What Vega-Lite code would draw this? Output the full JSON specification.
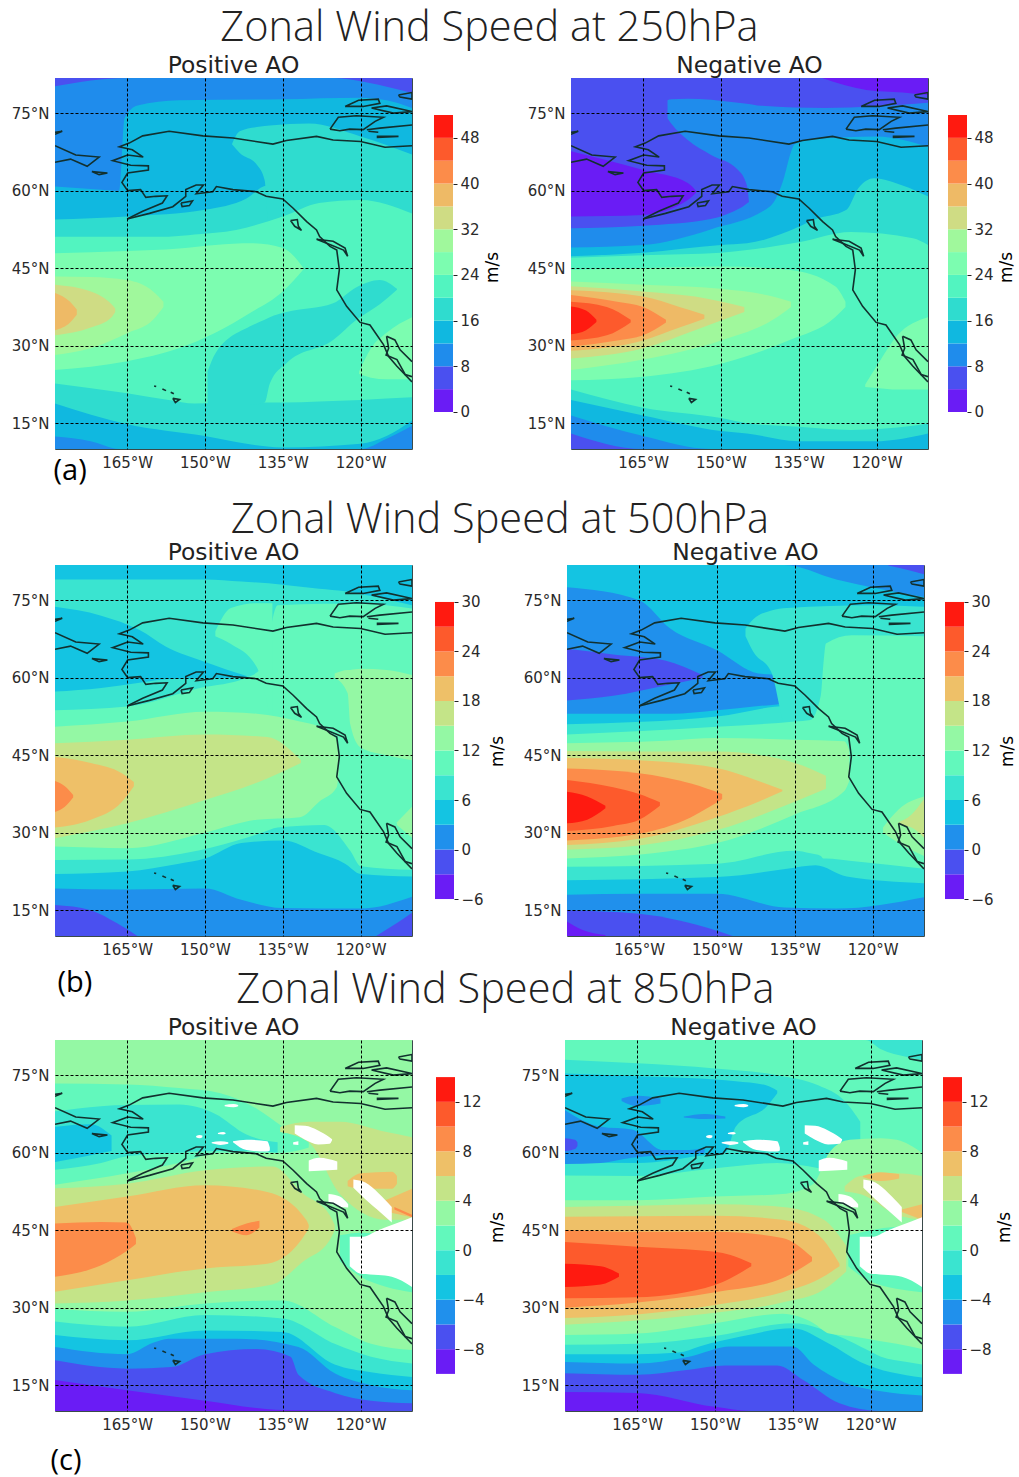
{"$schema":"https://vega.github.io/schema/vega-lite/v6.json","padding":{"left":10,"top":7,"right":0,"bottom":0},"background":"white",
"config":{"view":{"stroke":"#3a4a4a"},"axis":{"labelFont":"DejaVu Sans","labelFontSize":15,"labelColor":"#2a2a2a","titleFont":"DejaVu Sans","titleFontWeight":"normal"},"title":{"font":"DejaVu Sans","fontWeight":"normal","color":"#222"},"axisX":{"grid":true,"gridColor":"#000","gridDash":[3,2],"gridOpacity":1,"ticks":false,"domain":false,"labelPadding":6},"axisY":{"grid":true,"gridColor":"#000","gridDash":[3,2],"gridOpacity":1,"ticks":false,"domain":false,"labelPadding":6}},
"resolve":{"scale":{"color":"independent"}},
"datasets":{
"a1":[
{"b":1,"l":4,"x":-178.9,"y":10,"y2":81.8},{"b":1,"l":4,"x":-110.1,"y":10,"y2":81.8},
{"b":2,"l":8,"x":-178.9,"y":10,"y2":80.2},{"b":2,"l":8,"x":-165,"y":10,"y2":81.8},{"b":2,"l":8,"x":-125,"y":10,"y2":81.8},{"b":2,"l":8,"x":-119,"y":10,"y2":81},{"b":2,"l":8,"x":-110.1,"y":10,"y2":78.9},
{"b":3,"l":12,"x":-178.9,"y":12.4,"y2":60.8},{"b":3,"l":12,"x":-172,"y":11.5,"y2":60.3},{"b":3,"l":12,"x":-166.5,"y":10,"y2":60},{"b":3,"l":12,"x":-165.5,"y":10,"y2":74},{"b":3,"l":12,"x":-163,"y":10,"y2":76.5},{"b":3,"l":12,"x":-155,"y":10,"y2":77.5},{"b":3,"l":12,"x":-135,"y":10,"y2":77.7},{"b":3,"l":12,"x":-120,"y":10,"y2":78},{"b":3,"l":12,"x":-115,"y":12,"y2":77.5},{"b":3,"l":12,"x":-110.1,"y":14.5,"y2":76},
{"b":4,"l":16,"x":-178.9,"y":18.8,"y2":54.4},{"b":4,"l":16,"x":-165,"y":14.8,"y2":55},{"b":4,"l":16,"x":-150,"y":12.5,"y2":56.3},{"b":4,"l":16,"x":-142,"y":11,"y2":58.5},{"b":4,"l":16,"x":-138,"y":10.5,"y2":61},{"b":4,"l":16,"x":-135,"y":10.3,"y2":58},{"b":4,"l":16,"x":-120,"y":11,"y2":58},{"b":4,"l":16,"x":-115,"y":12.5,"y2":58},{"b":4,"l":16,"x":-110.1,"y":15.5,"y2":58},
{"b":5,"l":16,"x":-144.8,"y":69,"y2":69},{"b":5,"l":16,"x":-143.3,"y":67.3,"y2":71.5},{"b":5,"l":16,"x":-140,"y":65,"y2":72.3},{"b":5,"l":16,"x":-138.5,"y":62,"y2":72.5},{"b":5,"l":16,"x":-137.5,"y":50,"y2":72.6},{"b":5,"l":16,"x":-130,"y":50,"y2":73},{"b":5,"l":16,"x":-120,"y":50,"y2":70.5},{"b":5,"l":16,"x":-110.1,"y":50,"y2":67},
{"b":6,"l":20,"x":-178.9,"y":22.7,"y2":51.1},{"b":6,"l":20,"x":-165,"y":20.8,"y2":51.1},{"b":6,"l":20,"x":-157,"y":19.5,"y2":51.1},{"b":6,"l":20,"x":-152,"y":18.8,"y2":51.5},{"b":6,"l":20,"x":-144,"y":19,"y2":52.4},{"b":6,"l":20,"x":-135,"y":19,"y2":55},{"b":6,"l":20,"x":-128,"y":19.2,"y2":57.6},{"b":6,"l":20,"x":-120,"y":19.5,"y2":58.2},{"b":6,"l":20,"x":-110.1,"y":20,"y2":55.6},
{"b":7,"l":16,"x":-149.5,"y":18.5,"y2":25},{"b":7,"l":16,"x":-148,"y":18.5,"y2":28.5},{"b":7,"l":16,"x":-141.4,"y":18.5,"y2":33.7},{"b":7,"l":16,"x":-138.5,"y":19,"y2":35},{"b":7,"l":16,"x":-137.5,"y":22.7,"y2":35.5},{"b":7,"l":16,"x":-134.3,"y":26.6,"y2":36.5},{"b":7,"l":16,"x":-125.3,"y":31.1,"y2":38.2},{"b":7,"l":16,"x":-120.8,"y":35,"y2":41.3},{"b":7,"l":16,"x":-116.3,"y":38,"y2":42.7},{"b":7,"l":16,"x":-113,"y":40.8,"y2":41},
{"b":8,"l":24,"x":-178.9,"y":25.3,"y2":47.9},{"b":8,"l":24,"x":-165,"y":27,"y2":48.3},{"b":8,"l":24,"x":-155,"y":29.5,"y2":48.8},{"b":8,"l":24,"x":-148,"y":32.5,"y2":49.5},{"b":8,"l":24,"x":-141,"y":36.5,"y2":49.8},{"b":8,"l":24,"x":-135,"y":40.5,"y2":48.9},{"b":8,"l":24,"x":-131,"y":44.8,"y2":45},
{"b":9,"l":24,"x":-120.3,"y":24.5,"y2":25},{"b":9,"l":24,"x":-118,"y":23.8,"y2":29.5},{"b":9,"l":24,"x":-115,"y":23.5,"y2":32.5},{"b":9,"l":24,"x":-110.1,"y":23.5,"y2":35.5},
{"b":10,"l":28,"x":-178.9,"y":28.2,"y2":43.4},{"b":10,"l":28,"x":-172,"y":29.5,"y2":43.3},{"b":10,"l":28,"x":-165,"y":32.4,"y2":42.7},{"b":10,"l":28,"x":-160,"y":35,"y2":40.5},{"b":10,"l":28,"x":-158,"y":37.5,"y2":38.5},
{"b":11,"l":32,"x":-178.9,"y":32,"y2":41.8},{"b":11,"l":32,"x":-172,"y":33.5,"y2":40.5},{"b":11,"l":32,"x":-168,"y":35.5,"y2":38},{"b":11,"l":32,"x":-167.3,"y":36.5,"y2":37.2},
{"b":12,"l":36,"x":-178.9,"y":33,"y2":40.2},{"b":12,"l":36,"x":-176,"y":34.5,"y2":38.5},{"b":12,"l":36,"x":-174.7,"y":36,"y2":37}
],
"a2":[
{"b":1,"l":4,"x":-178.9,"y":10,"y2":81.8},{"b":1,"l":4,"x":-110.1,"y":10,"y2":81.8},
{"b":2,"l":0,"x":-130.5,"y":81.8,"y2":81.8},{"b":2,"l":0,"x":-122,"y":79.5,"y2":81.8},{"b":2,"l":0,"x":-115,"y":79,"y2":81.8},{"b":2,"l":0,"x":-110.1,"y":78.5,"y2":81.8},
{"b":3,"l":0,"x":-178.9,"y":55,"y2":67.6},{"b":3,"l":0,"x":-165,"y":55.3,"y2":64},{"b":3,"l":0,"x":-156.4,"y":58.2,"y2":61.5},{"b":3,"l":0,"x":-154.8,"y":59.6,"y2":60},
{"b":4,"l":8,"x":-178.9,"y":13,"y2":52.7},{"b":4,"l":8,"x":-165,"y":10,"y2":53.2},{"b":4,"l":8,"x":-152,"y":10,"y2":54.5},{"b":4,"l":8,"x":-146,"y":10,"y2":56.8},{"b":4,"l":8,"x":-144,"y":10,"y2":58},{"b":4,"l":8,"x":-110.1,"y":10,"y2":58},
{"b":5,"l":8,"x":-160.3,"y":74,"y2":77.5},{"b":5,"l":8,"x":-159.6,"y":73,"y2":77.7},{"b":5,"l":8,"x":-156.4,"y":69.8,"y2":77.8},{"b":5,"l":8,"x":-151.9,"y":66.9,"y2":77.6},{"b":5,"l":8,"x":-146.7,"y":64,"y2":77},{"b":5,"l":8,"x":-145,"y":61,"y2":76.8},{"b":5,"l":8,"x":-143,"y":40,"y2":76.5},{"b":5,"l":8,"x":-130,"y":40,"y2":76},{"b":5,"l":8,"x":-110.1,"y":40,"y2":77},
{"b":6,"l":12,"x":-178.9,"y":16.5,"y2":49},{"b":6,"l":12,"x":-165,"y":12.5,"y2":49.5},{"b":6,"l":12,"x":-152,"y":10,"y2":52.5},{"b":6,"l":12,"x":-140.5,"y":10,"y2":57},{"b":6,"l":12,"x":-138,"y":10,"y2":62},{"b":6,"l":12,"x":-136.5,"y":10,"y2":67.5},{"b":6,"l":12,"x":-135.8,"y":10,"y2":69},{"b":6,"l":12,"x":-132,"y":10,"y2":70},{"b":6,"l":12,"x":-120,"y":10,"y2":70.5},{"b":6,"l":12,"x":-110.1,"y":10,"y2":68.5},
{"b":7,"l":16,"x":-178.9,"y":19.5,"y2":47.3},{"b":7,"l":16,"x":-165,"y":16.5,"y2":48},{"b":7,"l":16,"x":-150,"y":13.5,"y2":49.5},{"b":7,"l":16,"x":-145,"y":13,"y2":49.8},{"b":7,"l":16,"x":-135,"y":11.5,"y2":53},{"b":7,"l":16,"x":-132,"y":11.5,"y2":54.4},{"b":7,"l":16,"x":-125.8,"y":11.5,"y2":56.3},{"b":7,"l":16,"x":-123.5,"y":11.5,"y2":60.5},{"b":7,"l":16,"x":-120.5,"y":11.5,"y2":62.4},{"b":7,"l":16,"x":-115,"y":12,"y2":61},{"b":7,"l":16,"x":-110.1,"y":13,"y2":58.9},
{"b":8,"l":20,"x":-178.9,"y":21.5,"y2":47},{"b":8,"l":20,"x":-165,"y":18,"y2":47.5},{"b":8,"l":20,"x":-150,"y":16,"y2":48},{"b":8,"l":20,"x":-145,"y":15,"y2":48.5},{"b":8,"l":20,"x":-135,"y":14.3,"y2":50},{"b":8,"l":20,"x":-125,"y":13.7,"y2":52},{"b":8,"l":20,"x":-113,"y":14.5,"y2":50.8},{"b":8,"l":20,"x":-110.1,"y":15,"y2":49.5},
{"b":9,"l":24,"x":-178.9,"y":23.3,"y2":44.7},{"b":9,"l":24,"x":-165,"y":24,"y2":45},{"b":9,"l":24,"x":-150,"y":26.5,"y2":45.3},{"b":9,"l":24,"x":-137,"y":31,"y2":44.7},{"b":9,"l":24,"x":-128,"y":35.5,"y2":41.5},{"b":9,"l":24,"x":-126,"y":37.5,"y2":38.5},
{"b":10,"l":24,"x":-122.2,"y":22,"y2":22.5},{"b":10,"l":24,"x":-120,"y":21.8,"y2":26},{"b":10,"l":24,"x":-116,"y":21.5,"y2":32},{"b":10,"l":24,"x":-110.1,"y":21.5,"y2":35.5},
{"b":11,"l":28,"x":-178.9,"y":25.3,"y2":42.4},{"b":11,"l":28,"x":-165,"y":27.3,"y2":41.8},{"b":11,"l":28,"x":-150,"y":31,"y2":41},{"b":11,"l":28,"x":-140,"y":35,"y2":39.5},{"b":11,"l":28,"x":-136.5,"y":37.5,"y2":38.5},
{"b":12,"l":32,"x":-178.9,"y":27.5,"y2":41.5},{"b":12,"l":32,"x":-165,"y":29.5,"y2":40.5},{"b":12,"l":32,"x":-155,"y":33,"y2":39.5},{"b":12,"l":32,"x":-145.5,"y":36.5,"y2":37.5},
{"b":13,"l":36,"x":-178.9,"y":29,"y2":40.7},{"b":13,"l":36,"x":-165,"y":31,"y2":39.5},{"b":13,"l":36,"x":-158,"y":33.5,"y2":37.5},{"b":13,"l":36,"x":-153.2,"y":35.2,"y2":36},
{"b":14,"l":40,"x":-178.9,"y":29.8,"y2":39.8},{"b":14,"l":40,"x":-170,"y":31,"y2":38.5},{"b":14,"l":40,"x":-165,"y":32,"y2":37.5},{"b":14,"l":40,"x":-160.6,"y":34.5,"y2":35},
{"b":15,"l":44,"x":-178.9,"y":31,"y2":38.5},{"b":15,"l":44,"x":-172,"y":32,"y2":37.5},{"b":15,"l":44,"x":-167.4,"y":34.5,"y2":35},
{"b":16,"l":48,"x":-178.9,"y":32.2,"y2":37.6},{"b":16,"l":48,"x":-176,"y":33,"y2":36.8},{"b":16,"l":48,"x":-174,"y":34.6,"y2":35}
],
"b1":[
{"b":1,"l":0,"x":-178.9,"y":10,"y2":81.8},{"b":1,"l":0,"x":-110.1,"y":10,"y2":81.8},
{"b":2,"l":-3,"x":-178.9,"y":10,"y2":16},{"b":2,"l":-3,"x":-172,"y":10,"y2":15},{"b":2,"l":-3,"x":-167,"y":10,"y2":12.5},{"b":2,"l":-3,"x":-163,"y":10,"y2":10},
{"b":3,"l":-3,"x":-117,"y":10,"y2":10},{"b":3,"l":-3,"x":-113,"y":10,"y2":12.5},{"b":3,"l":-3,"x":-110.1,"y":10,"y2":14.5},
{"b":4,"l":3,"x":-178.9,"y":19.2,"y2":81.8},{"b":4,"l":3,"x":-165,"y":19,"y2":81.8},{"b":4,"l":3,"x":-150,"y":19.2,"y2":81.8},{"b":4,"l":3,"x":-143,"y":17,"y2":81.8},{"b":4,"l":3,"x":-135,"y":15.4,"y2":81.8},{"b":4,"l":3,"x":-120,"y":15.3,"y2":81.8},{"b":4,"l":3,"x":-110.1,"y":17.6,"y2":81.8},
{"b":5,"l":6,"x":-178.9,"y":22,"y2":79},{"b":5,"l":6,"x":-165,"y":22.5,"y2":79},{"b":5,"l":6,"x":-155,"y":24,"y2":79},{"b":5,"l":6,"x":-150,"y":25,"y2":79},{"b":5,"l":6,"x":-143,"y":28,"y2":78.6},{"b":5,"l":6,"x":-135,"y":28.5,"y2":78},{"b":5,"l":6,"x":-128,"y":26,"y2":77.2},{"b":5,"l":6,"x":-123,"y":24,"y2":76.7},{"b":5,"l":6,"x":-120,"y":22,"y2":76.2},{"b":5,"l":6,"x":-110.1,"y":21.5,"y2":74},
{"b":6,"l":3,"x":-178.9,"y":57.3,"y2":73.7},{"b":6,"l":3,"x":-170,"y":58,"y2":72},{"b":6,"l":3,"x":-162.6,"y":59,"y2":69.2},{"b":6,"l":3,"x":-157.5,"y":59.7,"y2":66},{"b":6,"l":3,"x":-149.8,"y":59.9,"y2":63},{"b":6,"l":3,"x":-142,"y":60,"y2":60.3},
{"b":7,"l":9,"x":-178.9,"y":24.7,"y2":53.7},{"b":7,"l":9,"x":-165,"y":24.8,"y2":54.4},{"b":7,"l":9,"x":-151,"y":26.6,"y2":58},{"b":7,"l":9,"x":-142,"y":29,"y2":60},{"b":7,"l":9,"x":-139,"y":30,"y2":62},{"b":7,"l":9,"x":-136,"y":31,"y2":74},{"b":7,"l":9,"x":-127,"y":31.5,"y2":74.3},{"b":7,"l":9,"x":-122,"y":26.5,"y2":74.3},{"b":7,"l":9,"x":-120,"y":23.5,"y2":74.3},{"b":7,"l":9,"x":-110.1,"y":22.8,"y2":73.4},
{"b":8,"l":9,"x":-148,"y":68,"y2":69},{"b":8,"l":9,"x":-145,"y":66.5,"y2":73.5},{"b":8,"l":9,"x":-140,"y":62,"y2":74.4},{"b":8,"l":9,"x":-137,"y":50,"y2":74.4},
{"b":9,"l":12,"x":-178.9,"y":27.3,"y2":50.5},{"b":9,"l":12,"x":-165,"y":27,"y2":51.5},{"b":9,"l":12,"x":-150,"y":30,"y2":53.4},{"b":9,"l":12,"x":-140,"y":32.5,"y2":53},{"b":9,"l":12,"x":-131.7,"y":33,"y2":51.5},{"b":9,"l":12,"x":-128,"y":36,"y2":50.5},{"b":9,"l":12,"x":-124.6,"y":38.8,"y2":48},{"b":9,"l":12,"x":-124.2,"y":42,"y2":44},
{"b":12,"l":12,"x":-125,"y":60,"y2":60.8},{"b":12,"l":12,"x":-122.5,"y":57,"y2":61.5},{"b":12,"l":12,"x":-122,"y":51,"y2":61.5},{"b":12,"l":12,"x":-120,"y":46.5,"y2":61.7},{"b":12,"l":12,"x":-115,"y":45,"y2":61.5},{"b":12,"l":12,"x":-110.1,"y":44,"y2":60.5},
{"b":11,"l":12,"x":-113,"y":31.5,"y2":32},{"b":11,"l":12,"x":-110.1,"y":29,"y2":35},
{"b":13,"l":15,"x":-178.9,"y":28.9,"y2":47.3},{"b":13,"l":15,"x":-165,"y":31.8,"y2":48},{"b":13,"l":15,"x":-150,"y":36.3,"y2":49},{"b":13,"l":15,"x":-138,"y":40.5,"y2":48.5},{"b":13,"l":15,"x":-131.5,"y":43.5,"y2":44},
{"b":14,"l":18,"x":-178.9,"y":31,"y2":44.7},{"b":14,"l":18,"x":-172,"y":32.5,"y2":43.5},{"b":14,"l":18,"x":-166,"y":36,"y2":41.5},{"b":14,"l":18,"x":-163.7,"y":39,"y2":39.8},
{"b":15,"l":21,"x":-178.9,"y":34,"y2":40},{"b":15,"l":21,"x":-177,"y":35,"y2":39},{"b":15,"l":21,"x":-175.4,"y":36.8,"y2":37.3}
],
"b2":[
{"b":1,"l":0,"x":-178.9,"y":10,"y2":81.8},{"b":1,"l":0,"x":-110.1,"y":10,"y2":81.8},
{"b":2,"l":3,"x":-178.9,"y":18,"y2":81.8},{"b":2,"l":3,"x":-165,"y":18.2,"y2":81.8},{"b":2,"l":3,"x":-150,"y":18.2,"y2":81.8},{"b":2,"l":3,"x":-137,"y":15.5,"y2":81.8},{"b":2,"l":3,"x":-127,"y":15.3,"y2":79},{"b":2,"l":3,"x":-110.1,"y":17.5,"y2":75.6},
{"b":3,"l":0,"x":-178.9,"y":53,"y2":77.5},{"b":3,"l":0,"x":-165,"y":53,"y2":75},{"b":3,"l":0,"x":-159,"y":53,"y2":69.5},{"b":3,"l":0,"x":-150,"y":53.7,"y2":65.3},{"b":3,"l":0,"x":-142,"y":54.5,"y2":60.8},{"b":3,"l":0,"x":-137.5,"y":55,"y2":60.5},{"b":3,"l":0,"x":-136.2,"y":56,"y2":58},
{"b":4,"l":-3,"x":-178.9,"y":55.6,"y2":65.6},{"b":4,"l":-3,"x":-170,"y":56.5,"y2":64.5},{"b":4,"l":-3,"x":-160,"y":58.5,"y2":63.3},{"b":4,"l":-3,"x":-152.8,"y":60,"y2":60.5},
{"b":5,"l":-3,"x":-178.9,"y":10,"y2":15},{"b":5,"l":-3,"x":-165,"y":10,"y2":14.3},{"b":5,"l":-3,"x":-150,"y":10,"y2":11},{"b":5,"l":-3,"x":-147,"y":10,"y2":10},
{"b":6,"l":-6,"x":-178.9,"y":10,"y2":12.8},{"b":6,"l":-6,"x":-176,"y":10,"y2":11.2},{"b":6,"l":-6,"x":-171.5,"y":10,"y2":10.2},
{"b":7,"l":-3,"x":-117,"y":81.7,"y2":81.8},{"b":7,"l":-3,"x":-113,"y":80.8,"y2":81.8},{"b":7,"l":-3,"x":-110.1,"y":80,"y2":81.8},
{"b":8,"l":6,"x":-178.9,"y":20.8,"y2":51},{"b":8,"l":6,"x":-150,"y":21.4,"y2":52.5},{"b":8,"l":6,"x":-136.5,"y":23,"y2":54.5},{"b":8,"l":6,"x":-131,"y":23.7,"y2":54.5},{"b":8,"l":6,"x":-125,"y":21.5,"y2":54.5},{"b":8,"l":6,"x":-110.1,"y":20.2,"y2":54.5},
{"b":9,"l":6,"x":-144.5,"y":68,"y2":69.5},{"b":9,"l":6,"x":-143,"y":65,"y2":71.3},{"b":9,"l":6,"x":-139.5,"y":61,"y2":73},{"b":9,"l":6,"x":-136.5,"y":50,"y2":73.5},{"b":9,"l":6,"x":-120,"y":50,"y2":74},{"b":9,"l":6,"x":-110.1,"y":50,"y2":73.7},
{"b":10,"l":9,"x":-178.9,"y":23.4,"y2":49},{"b":10,"l":9,"x":-150,"y":24,"y2":50.5},{"b":10,"l":9,"x":-135,"y":26.5,"y2":51.5},{"b":10,"l":9,"x":-132,"y":26,"y2":51.8},{"b":10,"l":9,"x":-130,"y":25.5,"y2":56.5},{"b":10,"l":9,"x":-129.5,"y":25,"y2":62.5},{"b":10,"l":9,"x":-129,"y":25,"y2":66.6},{"b":10,"l":9,"x":-124,"y":24.5,"y2":68.2},{"b":10,"l":9,"x":-110.1,"y":23,"y2":68},
{"b":11,"l":12,"x":-178.9,"y":25,"y2":47.3},{"b":11,"l":12,"x":-160,"y":26.3,"y2":47.8},{"b":11,"l":12,"x":-150,"y":28,"y2":48.3},{"b":11,"l":12,"x":-135,"y":33.5,"y2":48},{"b":11,"l":12,"x":-125.5,"y":38,"y2":47.7},{"b":11,"l":12,"x":-124.5,"y":40,"y2":46},
{"b":12,"l":12,"x":-118,"y":30,"y2":31},{"b":12,"l":12,"x":-115,"y":28,"y2":34.5},{"b":12,"l":12,"x":-110.1,"y":25.5,"y2":37},
{"b":13,"l":15,"x":-178.9,"y":26.7,"y2":45.8},{"b":13,"l":15,"x":-165,"y":27.5,"y2":45.7},{"b":13,"l":15,"x":-150,"y":30.5,"y2":45.7},{"b":13,"l":15,"x":-135,"y":36,"y2":43.5},{"b":13,"l":15,"x":-129,"y":38.5,"y2":41},
{"b":14,"l":15,"x":-115,"y":31.5,"y2":32},{"b":14,"l":15,"x":-112.5,"y":31,"y2":33.5},{"b":14,"l":15,"x":-110.1,"y":29,"y2":36.5},
{"b":15,"l":18,"x":-178.9,"y":27.6,"y2":44.5},{"b":15,"l":18,"x":-165,"y":28.8,"y2":44},{"b":15,"l":18,"x":-150,"y":33,"y2":42.5},{"b":15,"l":18,"x":-142,"y":36,"y2":40},{"b":15,"l":18,"x":-137.4,"y":38,"y2":38.3},
{"b":16,"l":21,"x":-178.9,"y":28.5,"y2":42.4},{"b":16,"l":21,"x":-165,"y":29.8,"y2":41.5},{"b":16,"l":21,"x":-155,"y":33,"y2":39.5},{"b":16,"l":21,"x":-149,"y":36.5,"y2":37.5},
{"b":17,"l":24,"x":-178.9,"y":30.3,"y2":40.2},{"b":17,"l":24,"x":-170,"y":31.3,"y2":38.8},{"b":17,"l":24,"x":-165,"y":32.5,"y2":37.5},{"b":17,"l":24,"x":-161,"y":35.2,"y2":35.9},
{"b":18,"l":27,"x":-178.9,"y":31.8,"y2":37.9},{"b":18,"l":27,"x":-175,"y":32.5,"y2":37},{"b":18,"l":27,"x":-171.5,"y":34.7,"y2":35.2}
],
"c1":[
{"b":1,"l":-10,"x":-178.9,"y":10,"y2":81.8},{"b":1,"l":-10,"x":-110.1,"y":10,"y2":81.8},
{"b":2,"l":-8,"x":-178.9,"y":16,"y2":81.8},{"b":2,"l":-8,"x":-165,"y":14,"y2":81.8},{"b":2,"l":-8,"x":-150,"y":12,"y2":81.8},{"b":2,"l":-8,"x":-135,"y":10.2,"y2":81.8},{"b":2,"l":-8,"x":-110.1,"y":10,"y2":81.8},
{"b":3,"l":-6,"x":-178.9,"y":19.8,"y2":81.8},{"b":3,"l":-6,"x":-165,"y":18.2,"y2":81.8},{"b":3,"l":-6,"x":-156.5,"y":18.5,"y2":81.8},{"b":3,"l":-6,"x":-150,"y":21,"y2":81.8},{"b":3,"l":-6,"x":-140,"y":22,"y2":81.8},{"b":3,"l":-6,"x":-133.5,"y":20.5,"y2":81.8},{"b":3,"l":-6,"x":-132,"y":17,"y2":81.8},{"b":3,"l":-6,"x":-125,"y":13.5,"y2":81.8},{"b":3,"l":-6,"x":-118,"y":12,"y2":81.8},{"b":3,"l":-6,"x":-110.1,"y":11.5,"y2":81.8},
{"b":4,"l":-4,"x":-178.9,"y":22.4,"y2":81.8},{"b":4,"l":-4,"x":-165,"y":21,"y2":81.8},{"b":4,"l":-4,"x":-160,"y":23.2,"y2":81.8},{"b":4,"l":-4,"x":-157,"y":24,"y2":81.8},{"b":4,"l":-4,"x":-144,"y":24,"y2":81.8},{"b":4,"l":-4,"x":-132,"y":22.4,"y2":81.8},{"b":4,"l":-4,"x":-125,"y":17.3,"y2":81.8},{"b":4,"l":-4,"x":-118,"y":15,"y2":81.8},{"b":4,"l":-4,"x":-110.1,"y":14,"y2":81.8},
{"b":5,"l":-2,"x":-178.9,"y":24.7,"y2":81.8},{"b":5,"l":-2,"x":-165,"y":23.7,"y2":81.8},{"b":5,"l":-2,"x":-150,"y":25.6,"y2":81.8},{"b":5,"l":-2,"x":-135,"y":25.3,"y2":81.8},{"b":5,"l":-2,"x":-125,"y":19,"y2":81.8},{"b":5,"l":-2,"x":-118,"y":17.5,"y2":81.8},{"b":5,"l":-2,"x":-110.1,"y":16.6,"y2":81.8},
{"b":6,"l":0,"x":-178.9,"y":27.3,"y2":81.8},{"b":6,"l":0,"x":-165,"y":26.3,"y2":81.8},{"b":6,"l":0,"x":-150,"y":28.6,"y2":81.8},{"b":6,"l":0,"x":-135,"y":27.9,"y2":81.8},{"b":6,"l":0,"x":-125,"y":23,"y2":81.8},{"b":6,"l":0,"x":-118,"y":20.5,"y2":81.8},{"b":6,"l":0,"x":-110.1,"y":19.2,"y2":81.8},
{"b":7,"l":2,"x":-178.9,"y":29.8,"y2":81.8},{"b":7,"l":2,"x":-165,"y":29.2,"y2":81.8},{"b":7,"l":2,"x":-150,"y":30.8,"y2":81.8},{"b":7,"l":2,"x":-135,"y":31.4,"y2":81.8},{"b":7,"l":2,"x":-125,"y":26.3,"y2":81.8},{"b":7,"l":2,"x":-118,"y":23,"y2":81.8},{"b":7,"l":2,"x":-110.1,"y":21.8,"y2":81.8},
{"b":8,"l":0,"x":-178.9,"y":53.8,"y2":73.4},{"b":8,"l":0,"x":-165,"y":56,"y2":73.2},{"b":8,"l":0,"x":-155,"y":58,"y2":72.5},{"b":8,"l":0,"x":-147,"y":60,"y2":71.5},{"b":8,"l":0,"x":-140,"y":60,"y2":68.5},{"b":8,"l":0,"x":-135,"y":60,"y2":65},{"b":8,"l":0,"x":-130,"y":61,"y2":62},
{"b":9,"l":0,"x":-124,"y":39,"y2":44},{"b":9,"l":0,"x":-120,"y":36,"y2":44.5},{"b":9,"l":0,"x":-115,"y":34,"y2":44},{"b":9,"l":0,"x":-110.1,"y":33,"y2":41},
{"b":10,"l":-2,"x":-178.9,"y":56.7,"y2":68},{"b":10,"l":-2,"x":-170,"y":58,"y2":69},{"b":10,"l":-2,"x":-165,"y":59.3,"y2":69.2},{"b":10,"l":-2,"x":-155,"y":60,"y2":69.3},{"b":10,"l":-2,"x":-148,"y":60.3,"y2":67.5},{"b":10,"l":-2,"x":-142,"y":60.3,"y2":63.5},{"b":10,"l":-2,"x":-136,"y":60,"y2":62},
{"b":11,"l":-4,"x":-178.9,"y":58.2,"y2":65},{"b":11,"l":-4,"x":-172,"y":59.5,"y2":65.5},{"b":11,"l":-4,"x":-168,"y":60.3,"y2":63.3},
{"b":12,"l":4,"x":-178.9,"y":30.8,"y2":53.1},{"b":12,"l":4,"x":-165,"y":31.4,"y2":54},{"b":12,"l":4,"x":-150,"y":33,"y2":56.6},{"b":12,"l":4,"x":-137,"y":34.5,"y2":57.3},{"b":12,"l":4,"x":-131,"y":39,"y2":52},{"b":12,"l":4,"x":-126,"y":43,"y2":48},{"b":12,"l":4,"x":-125,"y":45,"y2":46},
{"b":13,"l":4,"x":-135.5,"y":64,"y2":65},{"b":13,"l":4,"x":-130,"y":62,"y2":66},{"b":13,"l":4,"x":-124,"y":52,"y2":66},{"b":13,"l":4,"x":-115,"y":47,"y2":64},{"b":13,"l":4,"x":-110.1,"y":47,"y2":63},
{"b":14,"l":6,"x":-178.9,"y":33.1,"y2":49.5},{"b":14,"l":6,"x":-165,"y":35.3,"y2":51.5},{"b":14,"l":6,"x":-150,"y":37.6,"y2":53.7},{"b":14,"l":6,"x":-138,"y":38.5,"y2":52.4},{"b":14,"l":6,"x":-130.5,"y":44.5,"y2":47},{"b":14,"l":6,"x":-130,"y":45.5,"y2":46},
{"b":15,"l":6,"x":-122.5,"y":53.5,"y2":54.5},{"b":15,"l":6,"x":-120,"y":53,"y2":56},{"b":15,"l":6,"x":-114,"y":53,"y2":56.3},{"b":15,"l":6,"x":-113,"y":54,"y2":55.5},
{"b":16,"l":6,"x":-117,"y":49,"y2":50},{"b":16,"l":6,"x":-110.1,"y":47.5,"y2":53},
{"b":17,"l":8,"x":-178.9,"y":36,"y2":46.3},{"b":17,"l":8,"x":-170,"y":38.2,"y2":46.6},{"b":17,"l":8,"x":-165,"y":41,"y2":46.5},{"b":17,"l":8,"x":-163.3,"y":42.3,"y2":43.5},
{"b":18,"l":8,"x":-144.8,"y":44.8,"y2":45.2},{"b":18,"l":8,"x":-142,"y":44,"y2":46.3},{"b":18,"l":8,"x":-139.5,"y":45.5,"y2":46.8},
{"b":19,"l":8,"x":-113.5,"y":49,"y2":49.5},{"b":19,"l":8,"x":-110.1,"y":47.5,"y2":48}
],
"c2":[
{"b":1,"l":-10,"x":-178.9,"y":10,"y2":81.8},{"b":1,"l":-10,"x":-110.1,"y":10,"y2":81.8},
{"b":2,"l":-8,"x":-178.9,"y":13.7,"y2":81.8},{"b":2,"l":-8,"x":-165,"y":13.5,"y2":81.8},{"b":2,"l":-8,"x":-150,"y":10.8,"y2":81.8},{"b":2,"l":-8,"x":-143,"y":10,"y2":81.8},{"b":2,"l":-8,"x":-110.1,"y":10,"y2":81.8},
{"b":3,"l":-6,"x":-178.9,"y":17.3,"y2":81.8},{"b":3,"l":-6,"x":-165,"y":17,"y2":81.8},{"b":3,"l":-6,"x":-155,"y":18,"y2":81.8},{"b":3,"l":-6,"x":-148,"y":18.8,"y2":81.8},{"b":3,"l":-6,"x":-138,"y":18.8,"y2":81.8},{"b":3,"l":-6,"x":-133,"y":16,"y2":81.8},{"b":3,"l":-6,"x":-126,"y":11.5,"y2":81.8},{"b":3,"l":-6,"x":-118,"y":10,"y2":81.8},{"b":3,"l":-6,"x":-110.1,"y":10,"y2":81.8},
{"b":4,"l":-4,"x":-178.9,"y":19.5,"y2":81.8},{"b":4,"l":-4,"x":-165,"y":19.2,"y2":81.8},{"b":4,"l":-4,"x":-155,"y":20.5,"y2":81.8},{"b":4,"l":-4,"x":-147,"y":22.5,"y2":81.8},{"b":4,"l":-4,"x":-135,"y":22.5,"y2":81.8},{"b":4,"l":-4,"x":-131,"y":19,"y2":81.8},{"b":4,"l":-4,"x":-125,"y":15.5,"y2":81.8},{"b":4,"l":-4,"x":-118,"y":13.8,"y2":81.8},{"b":4,"l":-4,"x":-110.1,"y":13,"y2":81.8},
{"b":5,"l":-2,"x":-178.9,"y":21,"y2":81.8},{"b":5,"l":-2,"x":-165,"y":21,"y2":81.8},{"b":5,"l":-2,"x":-157,"y":21.3,"y2":81.8},{"b":5,"l":-2,"x":-153,"y":22.5,"y2":81.8},{"b":5,"l":-2,"x":-145,"y":24.4,"y2":81.8},{"b":5,"l":-2,"x":-135,"y":26,"y2":81.8},{"b":5,"l":-2,"x":-128,"y":23,"y2":81.8},{"b":5,"l":-2,"x":-122,"y":19.5,"y2":81.8},{"b":5,"l":-2,"x":-110.1,"y":16.5,"y2":81.8},
{"b":6,"l":0,"x":-178.9,"y":22.8,"y2":81.8},{"b":6,"l":0,"x":-165,"y":23,"y2":81.8},{"b":6,"l":0,"x":-150,"y":24.5,"y2":81.8},{"b":6,"l":0,"x":-135,"y":27,"y2":81.8},{"b":6,"l":0,"x":-125,"y":24,"y2":81.8},{"b":6,"l":0,"x":-121,"y":22,"y2":81.8},{"b":6,"l":0,"x":-118,"y":20.5,"y2":80},{"b":6,"l":0,"x":-113,"y":19.5,"y2":78.5},{"b":6,"l":0,"x":-110.1,"y":19,"y2":78},
{"b":7,"l":-2,"x":-178.9,"y":55.6,"y2":78},{"b":7,"l":-2,"x":-165,"y":55.5,"y2":77.3},{"b":7,"l":-2,"x":-150,"y":57,"y2":76.3},{"b":7,"l":-2,"x":-138,"y":58,"y2":75},{"b":7,"l":-2,"x":-130,"y":57,"y2":73},{"b":7,"l":-2,"x":-125,"y":56,"y2":70},{"b":7,"l":-2,"x":-122,"y":54,"y2":66},
{"b":8,"l":-4,"x":-178.9,"y":58.2,"y2":75.3},{"b":8,"l":-4,"x":-165,"y":58,"y2":74.8},{"b":8,"l":-4,"x":-152,"y":59.5,"y2":74.3},{"b":8,"l":-4,"x":-148,"y":60,"y2":74},{"b":8,"l":-4,"x":-146,"y":65,"y2":73.8},{"b":8,"l":-4,"x":-140,"y":69,"y2":73},{"b":8,"l":-4,"x":-138,"y":71.5,"y2":72},
{"b":9,"l":-6,"x":-178.9,"y":57.8,"y2":68.2},{"b":9,"l":-6,"x":-172,"y":58,"y2":65},{"b":9,"l":-6,"x":-166,"y":59,"y2":64.5},{"b":9,"l":-6,"x":-160,"y":59.5,"y2":60.5},{"b":9,"l":-6,"x":-155,"y":59.8,"y2":60.5},{"b":9,"l":-6,"x":-152,"y":60,"y2":61},
{"b":10,"l":-6,"x":-168,"y":70,"y2":70.5},{"b":10,"l":-6,"x":-165,"y":69,"y2":71},{"b":10,"l":-6,"x":-160.5,"y":69.5,"y2":70.5},
{"b":11,"l":-6,"x":-156,"y":66.8,"y2":67},{"b":11,"l":-6,"x":-152,"y":66.5,"y2":67.5},{"b":11,"l":-6,"x":-148,"y":66.6,"y2":67},
{"b":12,"l":-8,"x":-178.9,"y":60.3,"y2":62.8},{"b":12,"l":-8,"x":-177,"y":60.7,"y2":62.5},{"b":12,"l":-8,"x":-176.5,"y":61.3,"y2":62},
{"b":13,"l":2,"x":-178.9,"y":24.7,"y2":50.8},{"b":13,"l":2,"x":-165,"y":25,"y2":50.8},{"b":13,"l":2,"x":-150,"y":27,"y2":51.5},{"b":13,"l":2,"x":-137,"y":28.8,"y2":52},{"b":13,"l":2,"x":-131,"y":27,"y2":54},{"b":13,"l":2,"x":-128,"y":25,"y2":60},{"b":13,"l":2,"x":-124,"y":24.5,"y2":62.5},{"b":13,"l":2,"x":-118,"y":23.5,"y2":62.8},{"b":13,"l":2,"x":-115,"y":23,"y2":62.5},{"b":13,"l":2,"x":-110.1,"y":22,"y2":60},
{"b":14,"l":0,"x":-124.3,"y":38,"y2":44},{"b":14,"l":0,"x":-120,"y":35,"y2":45},{"b":14,"l":0,"x":-110.1,"y":33,"y2":46},
{"b":15,"l":4,"x":-178.9,"y":26.7,"y2":49.5},{"b":15,"l":4,"x":-165,"y":27.5,"y2":49.7},{"b":15,"l":4,"x":-150,"y":29,"y2":50},{"b":15,"l":4,"x":-137,"y":31,"y2":49.5},{"b":15,"l":4,"x":-129,"y":33.5,"y2":47},{"b":15,"l":4,"x":-124.7,"y":37,"y2":42},
{"b":16,"l":4,"x":-125,"y":52.5,"y2":53.5},{"b":16,"l":4,"x":-122,"y":52,"y2":55.5},{"b":16,"l":4,"x":-115,"y":48,"y2":56},{"b":16,"l":4,"x":-110.1,"y":47,"y2":55.5},
{"b":17,"l":6,"x":-178.9,"y":28,"y2":47.6},{"b":17,"l":6,"x":-165,"y":28.7,"y2":47.7},{"b":17,"l":6,"x":-150,"y":30.5,"y2":47.8},{"b":17,"l":6,"x":-137,"y":33,"y2":47},{"b":17,"l":6,"x":-130,"y":35.5,"y2":44},{"b":17,"l":6,"x":-126,"y":38,"y2":38.5},
{"b":18,"l":6,"x":-121.5,"y":55.3,"y2":55.5},{"b":18,"l":6,"x":-118,"y":54.5,"y2":56.2},{"b":18,"l":6,"x":-114.5,"y":55,"y2":55.8},
{"b":19,"l":6,"x":-114,"y":48.5,"y2":49},{"b":19,"l":6,"x":-110.1,"y":47,"y2":50},
{"b":20,"l":8,"x":-178.9,"y":30,"y2":45},{"b":20,"l":8,"x":-165,"y":31,"y2":44.7},{"b":20,"l":8,"x":-150,"y":33,"y2":44.7},{"b":20,"l":8,"x":-137,"y":35.7,"y2":43.5},{"b":20,"l":8,"x":-131.3,"y":39,"y2":39.8},
{"b":21,"l":10,"x":-178.9,"y":31.8,"y2":42.7},{"b":21,"l":10,"x":-165,"y":32,"y2":41.8},{"b":21,"l":10,"x":-150,"y":34.4,"y2":40.8},{"b":21,"l":10,"x":-147,"y":35.7,"y2":40.2},{"b":21,"l":10,"x":-143,"y":38,"y2":38.6},
{"b":22,"l":12,"x":-178.9,"y":34,"y2":38.5},{"b":22,"l":12,"x":-172,"y":34.5,"y2":38},{"b":22,"l":12,"x":-168.5,"y":36,"y2":36.6}
],
"white":[
{"b":1,"x":-146.2,"y":69,"y2":69.2},{"b":1,"x":-144.5,"y":68.8,"y2":69.4},{"b":1,"x":-143.6,"y":69,"y2":69.2},
{"b":2,"x":-132.7,"y":63.7,"y2":65.3},{"b":2,"x":-130.7,"y":62.5,"y2":65.2},{"b":2,"x":-128.2,"y":61.6,"y2":64.3},{"b":2,"x":-126,"y":61.7,"y2":63},{"b":2,"x":-125.5,"y":62.4,"y2":62.6},
{"b":3,"x":-144.6,"y":62,"y2":62.2},{"b":3,"x":-142,"y":60.5,"y2":62.5},{"b":3,"x":-138,"y":60.2,"y2":62.2},{"b":3,"x":-137.5,"y":60.4,"y2":61},
{"b":4,"x":-130,"y":56.4,"y2":58.5},{"b":4,"x":-128,"y":56.5,"y2":59},{"b":4,"x":-124.5,"y":56.7,"y2":58.3},
{"b":5,"x":-122.1,"y":38,"y2":43.7},{"b":5,"x":-119.8,"y":36.5,"y2":43.7},{"b":5,"x":-116.6,"y":36.3,"y2":45},{"b":5,"x":-114,"y":36,"y2":46},{"b":5,"x":-110.1,"y":34,"y2":47.5},
{"b":6,"x":-121.4,"y":53.2,"y2":54.8},{"b":6,"x":-119.1,"y":51,"y2":54.2},{"b":6,"x":-116.6,"y":48.8,"y2":52.2},{"b":6,"x":-114,"y":46.5,"y2":49.5},
{"b":7,"x":-126.2,"y":50.5,"y2":52},{"b":7,"x":-124,"y":49.5,"y2":51.5},{"b":7,"x":-122.4,"y":49.4,"y2":50},
{"b":8,"x":-151.7,"y":63,"y2":63.2},{"b":8,"x":-151,"y":62.8,"y2":63.4},{"b":8,"x":-150.5,"y":63,"y2":63.3},
{"b":9,"x":-148.7,"y":61.8,"y2":62},{"b":9,"x":-147,"y":61.5,"y2":62.2},{"b":9,"x":-145.5,"y":61.7,"y2":62},
{"b":10,"x":-147.5,"y":63.6,"y2":63.8},{"b":10,"x":-146.5,"y":63.5,"y2":64},{"b":10,"x":-146,"y":63.7,"y2":63.8},
{"b":11,"x":-133,"y":61.6,"y2":62},{"b":11,"x":-132,"y":61.5,"y2":62.2}
],
"coast":[
{"s":1,"x":-165,"y":54.5},{"s":1,"x":-160.7,"y":55.6},{"s":1,"x":-156.2,"y":56.9},{"s":1,"x":-153.7,"y":58.9},{"s":1,"x":-153.7,"y":60.2},{"s":1,"x":-151.7,"y":61.1},{"s":1,"x":-150.3,"y":61.1},{"s":1,"x":-151.7,"y":59.4},{"s":1,"x":-148.5,"y":59.8},{"s":1,"x":-147.8,"y":60.8},{"s":1,"x":-144.6,"y":60.2},{"s":1,"x":-140.1,"y":59.8},{"s":1,"x":-138.2,"y":58.9},{"s":1,"x":-135,"y":58.4},{"s":1,"x":-133,"y":56.6},{"s":1,"x":-130.4,"y":54},{"s":1,"x":-128.5,"y":52.4},{"s":1,"x":-127.9,"y":51.1},{"s":1,"x":-125.9,"y":49.2},{"s":1,"x":-124.6,"y":48.5},{"s":1,"x":-124.1,"y":44.7},{"s":1,"x":-124.6,"y":40.8},{"s":1,"x":-122.7,"y":37.6},{"s":1,"x":-120.1,"y":34.5},{"s":1,"x":-118.2,"y":34},{"s":1,"x":-115.6,"y":30.2},{"s":1,"x":-114.6,"y":27.9},{"s":1,"x":-113,"y":26},{"s":1,"x":-110.1,"y":23},
{"s":2,"x":-165,"y":54.5},{"s":2,"x":-162,"y":56},{"s":2,"x":-158.2,"y":57.6},{"s":2,"x":-157.3,"y":59},{"s":2,"x":-159.5,"y":58.9},{"s":2,"x":-161.4,"y":58.7},{"s":2,"x":-162.4,"y":60.2},{"s":2,"x":-164.9,"y":60},{"s":2,"x":-166,"y":61.6},{"s":2,"x":-164.9,"y":63.4},{"s":2,"x":-160.9,"y":64},{"s":2,"x":-160.9,"y":64.8},{"s":2,"x":-164.3,"y":64.9},{"s":2,"x":-167.8,"y":65.8},{"s":2,"x":-164.9,"y":66.9},{"s":2,"x":-161.9,"y":66.5},{"s":2,"x":-164,"y":67.9},{"s":2,"x":-166.5,"y":68.5},{"s":2,"x":-164.6,"y":69.2},{"s":2,"x":-162,"y":70.6},{"s":2,"x":-156.9,"y":71.5},{"s":2,"x":-150.4,"y":70.6},{"s":2,"x":-144.6,"y":70.2},{"s":2,"x":-136.9,"y":69},{"s":2,"x":-134.3,"y":69.7},{"s":2,"x":-128.5,"y":70.5},{"s":2,"x":-125.3,"y":69.8},{"s":2,"x":-120,"y":69.5},{"s":2,"x":-115.3,"y":68.4},{"s":2,"x":-110.1,"y":68.7},
{"s":3,"x":-128.5,"y":50.6},{"s":3,"x":-125.3,"y":50.2},{"s":3,"x":-123,"y":48.9},{"s":3,"x":-122.5,"y":47.3},{"s":3,"x":-123.3,"y":48.5},{"s":3,"x":-126.3,"y":49.7},{"s":3,"x":-128.5,"y":50.6},
{"s":4,"x":-133.5,"y":54.2},{"s":4,"x":-132.2,"y":54.4},{"s":4,"x":-132,"y":53.1},{"s":4,"x":-131.4,"y":52.3},{"s":4,"x":-132.7,"y":53.1},{"s":4,"x":-133.5,"y":54.2},
{"s":5,"x":-154.6,"y":57.6},{"s":5,"x":-152.4,"y":58},{"s":5,"x":-153,"y":57.1},{"s":5,"x":-154.4,"y":56.9},{"s":5,"x":-154.6,"y":57.6},
{"s":6,"x":-156.2,"y":19.8},{"s":6,"x":-154.9,"y":19.6},{"s":6,"x":-155.7,"y":19},{"s":6,"x":-156.2,"y":19.8},
{"s":7,"x":-159.8,"y":22.2},{"s":7,"x":-159.4,"y":22.1},
{"s":8,"x":-158.2,"y":21.6},{"s":8,"x":-157.5,"y":21.3},
{"s":9,"x":-156.6,"y":21},{"s":9,"x":-156,"y":20.7},
{"s":10,"x":-171.8,"y":63.7},{"s":10,"x":-168.8,"y":63.4},{"s":10,"x":-170.4,"y":63.1},{"s":10,"x":-171.8,"y":63.7},
{"s":11,"x":-123,"y":76.3},{"s":11,"x":-120.4,"y":77.5},{"s":11,"x":-116.6,"y":77.7},{"s":11,"x":-116.3,"y":76.9},{"s":11,"x":-119.5,"y":76.3},{"s":11,"x":-123,"y":76.3},
{"s":12,"x":-117.9,"y":76},{"s":12,"x":-115,"y":76.4},{"s":12,"x":-110.1,"y":75.3},{"s":12,"x":-113.7,"y":75},{"s":12,"x":-117.9,"y":76},
{"s":13,"x":-112.7,"y":78.5},{"s":13,"x":-110.1,"y":79},{"s":13,"x":-110.1,"y":77.7},{"s":13,"x":-112.4,"y":78.1},{"s":13,"x":-112.7,"y":78.5},
{"s":14,"x":-125.9,"y":71.9},{"s":14,"x":-124.3,"y":74.2},{"s":14,"x":-120.8,"y":74.5},{"s":14,"x":-115.6,"y":74.2},{"s":14,"x":-117.2,"y":73.4},{"s":14,"x":-119.5,"y":71.8},{"s":14,"x":-122.1,"y":71.9},{"s":14,"x":-124,"y":71.6},{"s":14,"x":-125.9,"y":71.9},
{"s":15,"x":-118.8,"y":71.8},{"s":15,"x":-116.3,"y":72.1},{"s":15,"x":-110.1,"y":72.7},
{"s":16,"x":-116.9,"y":70.5},{"s":16,"x":-112.7,"y":70.5},{"s":16,"x":-116.9,"y":70.3},
{"s":17,"x":-118.5,"y":71.5},{"s":17,"x":-116.6,"y":71.3},
{"s":18,"x":-178.9,"y":68.7},{"s":18,"x":-174.9,"y":66.9},{"s":18,"x":-170.4,"y":66.5},{"s":18,"x":-172.7,"y":64.7},{"s":18,"x":-175.9,"y":66.1},{"s":18,"x":-178.9,"y":65.5},
{"s":19,"x":-178.9,"y":71.3},{"s":19,"x":-177.5,"y":71.5},{"s":19,"x":-178.9,"y":70.9},
{"s":20,"x":-115,"y":31.8},{"s":20,"x":-113.4,"y":31.1},{"s":20,"x":-112.4,"y":29.2},{"s":20,"x":-110.1,"y":26.9},
{"s":21,"x":-115,"y":31.8},{"s":21,"x":-114.6,"y":29.5},{"s":21,"x":-115.1,"y":28.2},{"s":21,"x":-113,"y":27.3},{"s":21,"x":-111.4,"y":24.4},{"s":21,"x":-110.1,"y":24}
],
"cba":[{"y":0,"y2":4,"l":0},{"y":4,"y2":8,"l":4},{"y":8,"y2":12,"l":8},{"y":12,"y2":16,"l":12},{"y":16,"y2":20,"l":16},{"y":20,"y2":24,"l":20},{"y":24,"y2":28,"l":24},{"y":28,"y2":32,"l":28},{"y":32,"y2":36,"l":32},{"y":36,"y2":40,"l":36},{"y":40,"y2":44,"l":40},{"y":44,"y2":48,"l":44},{"y":48,"y2":52,"l":48}],
"cbb":[{"y":-6,"y2":-3,"l":-6},{"y":-3,"y2":0,"l":-3},{"y":0,"y2":3,"l":0},{"y":3,"y2":6,"l":3},{"y":6,"y2":9,"l":6},{"y":9,"y2":12,"l":9},{"y":12,"y2":15,"l":12},{"y":15,"y2":18,"l":15},{"y":18,"y2":21,"l":18},{"y":21,"y2":24,"l":21},{"y":24,"y2":27,"l":24},{"y":27,"y2":30,"l":27}],
"cbc":[{"y":-10,"y2":-8,"l":-10},{"y":-8,"y2":-6,"l":-8},{"y":-6,"y2":-4,"l":-6},{"y":-4,"y2":-2,"l":-4},{"y":-2,"y2":0,"l":-2},{"y":0,"y2":2,"l":0},{"y":2,"y2":4,"l":2},{"y":4,"y2":6,"l":4},{"y":6,"y2":8,"l":6},{"y":8,"y2":10,"l":8},{"y":10,"y2":12,"l":10},{"y":12,"y2":14,"l":12}]
},
"vconcat":[
{"resolve":{"scale":{"color":"independent"}},"vconcat":[
{"resolve":{"scale":{"color":"independent"}},"title":{"text":"Zonal Wind Speed at 250hPa","font":"Open Sans","fontWeight":300,"fontSize":41.5,"anchor":"middle","dx":-23,"offset":4,"color":"#222"},"hconcat":[
{"resolve":{"scale":{"color":"independent"}},"hconcat":[
{"width":357,"height":371,"title":{"text":"Positive AO","fontSize":23.4,"offset":0},
"encoding":{"x":{"field":"x","type":"quantitative","scale":{"domain":[-178.9,-110.1],"nice":false,"zero":false},"axis":{"zindex":1,"values":[-165,-150,-135,-120],"labelExpr":"abs(datum.value)+'°W'","title":"(a)","titleFont":"Open Sans","titleFontSize":29,"titleX":-2,"titleY":21,"titleAlign":"left","titleBaseline":"middle"}},"y":{"field":"y","type":"quantitative","stack":null,"scale":{"domain":[10,81.8],"nice":false,"zero":false},"axis":{"zindex":1,"values":[15,30,45,60,75],"labelExpr":"datum.value+'°N'","title":null}}},
"layer":[
{"data":{"name":"a1"},"mark":{"type":"area","interpolate":"monotone","clip":true},"encoding":{"y2":{"field":"y2"},"color":{"field":"l","type":"ordinal","scale":{"domain":[0,4,8,12,16,20,24,28,32,36,40,44,48],"range":["#6a1cf5","#4a50f0","#1f8cec","#10b8e0","#2fdccf","#52f4c0","#7cfdb0","#a0f89c","#cfdc84","#eeba66","#fc8c4a","#fd5a2c","#ff1a10"]},"legend":null},"detail":{"field":"b"}}},
{"data":{"name":"coast"},"mark":{"type":"line","clip":true,"color":"#12302e","strokeWidth":1.6,"order":null},"encoding":{"detail":{"field":"s"}}}
]},
{"width":19,"height":371,"view":{"stroke":null},"data":{"name":"cba"},"mark":{"type":"rect"},"encoding":{"y":{"field":"y","type":"quantitative","scale":{"domain":[-6.48,58.48],"nice":false,"zero":false},"axis":{"orient":"right","values":[0,8,16,24,32,40,48],"format":"d","domain":false,"ticks":true,"tickSize":4,"tickColor":"#222","title":"m/s","titleFontSize":17,"titleAngle":270,"titleX":48,"titleY":189,"grid":false,"labelPadding":3}},"y2":{"field":"y2"},"color":{"field":"l","type":"ordinal","scale":{"domain":[0,4,8,12,16,20,24,28,32,36,40,44,48],"range":["#6a1cf5","#4a50f0","#1f8cec","#10b8e0","#2fdccf","#52f4c0","#7cfdb0","#a0f89c","#cfdc84","#eeba66","#fc8c4a","#fd5a2c","#ff1a10"]},"legend":null}}}
],"spacing":21},
{"resolve":{"scale":{"color":"independent"}},"hconcat":[
{"width":357,"height":371,"title":{"text":"Negative AO","fontSize":23.4,"offset":0},
"encoding":{"x":{"field":"x","type":"quantitative","scale":{"domain":[-178.9,-110.1],"nice":false,"zero":false},"axis":{"zindex":1,"values":[-165,-150,-135,-120],"labelExpr":"abs(datum.value)+'°W'","title":null}},"y":{"field":"y","type":"quantitative","stack":null,"scale":{"domain":[10,81.8],"nice":false,"zero":false},"axis":{"zindex":1,"values":[15,30,45,60,75],"labelExpr":"datum.value+'°N'","title":null}}},
"layer":[
{"data":{"name":"a2"},"mark":{"type":"area","interpolate":"monotone","clip":true},"encoding":{"y2":{"field":"y2"},"color":{"field":"l","type":"ordinal","scale":{"domain":[0,4,8,12,16,20,24,28,32,36,40,44,48],"range":["#6a1cf5","#4a50f0","#1f8cec","#10b8e0","#2fdccf","#52f4c0","#7cfdb0","#a0f89c","#cfdc84","#eeba66","#fc8c4a","#fd5a2c","#ff1a10"]},"legend":null},"detail":{"field":"b"}}},
{"data":{"name":"coast"},"mark":{"type":"line","clip":true,"color":"#12302e","strokeWidth":1.6,"order":null},"encoding":{"detail":{"field":"s"}}}
]},
{"width":19,"height":371,"view":{"stroke":null},"data":{"name":"cba"},"mark":{"type":"rect"},"encoding":{"y":{"field":"y","type":"quantitative","scale":{"domain":[-6.48,58.48],"nice":false,"zero":false},"axis":{"orient":"right","values":[0,8,16,24,32,40,48],"format":"d","domain":false,"ticks":true,"tickSize":4,"tickColor":"#222","title":"m/s","titleFontSize":17,"titleAngle":270,"titleX":48,"titleY":189,"grid":false,"labelPadding":3}},"y2":{"field":"y2"},"color":{"field":"l","type":"ordinal","scale":{"domain":[0,4,8,12,16,20,24,28,32,36,40,44,48],"range":["#6a1cf5","#4a50f0","#1f8cec","#10b8e0","#2fdccf","#52f4c0","#7cfdb0","#a0f89c","#cfdc84","#eeba66","#fc8c4a","#fd5a2c","#ff1a10"]},"legend":null}}}
],"spacing":19}
],"spacing":26},
{"resolve":{"scale":{"color":"independent"}},"title":{"text":"Zonal Wind Speed at 500hPa","font":"Open Sans","fontWeight":300,"fontSize":41.5,"anchor":"middle","dx":-13,"offset":-1,"color":"#222"},"hconcat":[
{"resolve":{"scale":{"color":"independent"}},"hconcat":[
{"width":357,"height":371,"title":{"text":"Positive AO","fontSize":23.4,"offset":0},
"encoding":{"x":{"field":"x","type":"quantitative","scale":{"domain":[-178.9,-110.1],"nice":false,"zero":false},"axis":{"zindex":1,"values":[-165,-150,-135,-120],"labelExpr":"abs(datum.value)+'°W'","title":"(b)","titleFont":"Open Sans","titleFontSize":29,"titleX":2,"titleY":46,"titleAlign":"left","titleBaseline":"middle"}},"y":{"field":"y","type":"quantitative","stack":null,"scale":{"domain":[10,81.8],"nice":false,"zero":false},"axis":{"zindex":1,"values":[15,30,45,60,75],"labelExpr":"datum.value+'°N'","title":null}}},
"layer":[
{"data":{"name":"b1"},"mark":{"type":"area","interpolate":"monotone","clip":true},"encoding":{"y2":{"field":"y2"},"color":{"field":"l","type":"ordinal","scale":{"domain":[-6,-3,0,3,6,9,12,15,18,21,24,27],"range":["#6a1cf5","#4a50f0","#2090ec","#14c4e2","#3ae4d0","#62f8bc","#94f8a4","#c4e488","#eec068","#fc8c4a","#fd5a2c","#ff1a10"]},"legend":null},"detail":{"field":"b"}}},
{"data":{"name":"coast"},"mark":{"type":"line","clip":true,"color":"#12302e","strokeWidth":1.6,"order":null},"encoding":{"detail":{"field":"s"}}}
]},
{"width":19,"height":371,"view":{"stroke":null},"data":{"name":"cbb"},"mark":{"type":"rect"},"encoding":{"y":{"field":"y","type":"quantitative","scale":{"domain":[-10.48,34.48],"nice":false,"zero":false},"axis":{"orient":"right","values":[-6,0,6,12,18,24,30],"format":"d","domain":false,"ticks":true,"tickSize":4,"tickColor":"#222","title":"m/s","titleFontSize":17,"titleAngle":270,"titleX":52,"titleY":186,"grid":false,"labelPadding":3}},"y2":{"field":"y2"},"color":{"field":"l","type":"ordinal","scale":{"domain":[-6,-3,0,3,6,9,12,15,18,21,24,27],"range":["#6a1cf5","#4a50f0","#2090ec","#14c4e2","#3ae4d0","#62f8bc","#94f8a4","#c4e488","#eec068","#fc8c4a","#fd5a2c","#ff1a10"]},"legend":null}}}
],"spacing":22},
{"resolve":{"scale":{"color":"independent"}},"hconcat":[
{"width":357,"height":371,"title":{"text":"Negative AO","fontSize":23.4,"offset":0},
"encoding":{"x":{"field":"x","type":"quantitative","scale":{"domain":[-178.9,-110.1],"nice":false,"zero":false},"axis":{"zindex":1,"values":[-165,-150,-135,-120],"labelExpr":"abs(datum.value)+'°W'","title":null}},"y":{"field":"y","type":"quantitative","stack":null,"scale":{"domain":[10,81.8],"nice":false,"zero":false},"axis":{"zindex":1,"values":[15,30,45,60,75],"labelExpr":"datum.value+'°N'","title":null}}},
"layer":[
{"data":{"name":"b2"},"mark":{"type":"area","interpolate":"monotone","clip":true},"encoding":{"y2":{"field":"y2"},"color":{"field":"l","type":"ordinal","scale":{"domain":[-6,-3,0,3,6,9,12,15,18,21,24,27],"range":["#6a1cf5","#4a50f0","#2090ec","#14c4e2","#3ae4d0","#62f8bc","#94f8a4","#c4e488","#eec068","#fc8c4a","#fd5a2c","#ff1a10"]},"legend":null},"detail":{"field":"b"}}},
{"data":{"name":"coast"},"mark":{"type":"line","clip":true,"color":"#12302e","strokeWidth":1.6,"order":null},"encoding":{"detail":{"field":"s"}}}
]},
{"width":19,"height":371,"view":{"stroke":null},"data":{"name":"cbb"},"mark":{"type":"rect"},"encoding":{"y":{"field":"y","type":"quantitative","scale":{"domain":[-10.48,34.48],"nice":false,"zero":false},"axis":{"orient":"right","values":[-6,0,6,12,18,24,30],"format":"d","domain":false,"ticks":true,"tickSize":4,"tickColor":"#222","title":"m/s","titleFontSize":17,"titleAngle":270,"titleX":52,"titleY":186,"grid":false,"labelPadding":3}},"y2":{"field":"y2"},"color":{"field":"l","type":"ordinal","scale":{"domain":[-6,-3,0,3,6,9,12,15,18,21,24,27],"range":["#6a1cf5","#4a50f0","#2090ec","#14c4e2","#3ae4d0","#62f8bc","#94f8a4","#c4e488","#eec068","#fc8c4a","#fd5a2c","#ff1a10"]},"legend":null}}}
],"spacing":20}
],"spacing":17}
],"spacing":13},
{"resolve":{"scale":{"color":"independent"}},"title":{"text":"Zonal Wind Speed at 850hPa","font":"Open Sans","fontWeight":300,"fontSize":41.5,"anchor":"middle","dx":-6,"offset":4,"color":"#222"},"hconcat":[
{"resolve":{"scale":{"color":"independent"}},"hconcat":[
{"width":357,"height":371,"title":{"text":"Positive AO","fontSize":23.4,"offset":0},
"encoding":{"x":{"field":"x","type":"quantitative","scale":{"domain":[-178.9,-110.1],"nice":false,"zero":false},"axis":{"zindex":1,"values":[-165,-150,-135,-120],"labelExpr":"abs(datum.value)+'°W'","title":"(c)","titleFont":"Open Sans","titleFontSize":29,"titleX":-5,"titleY":49,"titleAlign":"left","titleBaseline":"middle"}},"y":{"field":"y","type":"quantitative","stack":null,"scale":{"domain":[10,81.8],"nice":false,"zero":false},"axis":{"zindex":1,"values":[15,30,45,60,75],"labelExpr":"datum.value+'°N'","title":null}}},
"layer":[
{"data":{"name":"c1"},"mark":{"type":"area","interpolate":"monotone","clip":true},"encoding":{"y2":{"field":"y2"},"color":{"field":"l","type":"ordinal","scale":{"domain":[-10,-8,-6,-4,-2,0,2,4,6,8,10,12],"range":["#6a1cf5","#4a50f0","#2090ec","#14c4e2","#3ae4d0","#62f8bc","#94f8a4","#c4e488","#eec068","#fc8c4a","#fd5a2c","#ff1a10"]},"legend":null},"detail":{"field":"b"}}},
{"data":{"name":"white"},"mark":{"type":"area","interpolate":"monotone","clip":true,"color":"#fff"},"encoding":{"y2":{"field":"y2"},"detail":{"field":"b"}}},
{"data":{"name":"coast"},"mark":{"type":"line","clip":true,"color":"#12302e","strokeWidth":1.6,"order":null},"encoding":{"detail":{"field":"s"}}}
]},
{"width":19,"height":371,"view":{"stroke":null},"data":{"name":"cbc"},"mark":{"type":"rect"},"encoding":{"y":{"field":"y","type":"quantitative","scale":{"domain":[-13,17],"nice":false,"zero":false},"axis":{"orient":"right","values":[-8,-4,0,4,8,12],"format":"d","domain":false,"ticks":true,"tickSize":4,"tickColor":"#222","title":"m/s","titleFontSize":17,"titleAngle":270,"titleX":51,"titleY":187,"grid":false,"labelPadding":3}},"y2":{"field":"y2"},"color":{"field":"l","type":"ordinal","scale":{"domain":[-10,-8,-6,-4,-2,0,2,4,6,8,10,12],"range":["#6a1cf5","#4a50f0","#2090ec","#14c4e2","#3ae4d0","#62f8bc","#94f8a4","#c4e488","#eec068","#fc8c4a","#fd5a2c","#ff1a10"]},"legend":null}}}
],"spacing":23},
{"resolve":{"scale":{"color":"independent"}},"hconcat":[
{"width":357,"height":371,"title":{"text":"Negative AO","fontSize":23.4,"offset":0},
"encoding":{"x":{"field":"x","type":"quantitative","scale":{"domain":[-178.9,-110.1],"nice":false,"zero":false},"axis":{"zindex":1,"values":[-165,-150,-135,-120],"labelExpr":"abs(datum.value)+'°W'","title":null}},"y":{"field":"y","type":"quantitative","stack":null,"scale":{"domain":[10,81.8],"nice":false,"zero":false},"axis":{"zindex":1,"values":[15,30,45,60,75],"labelExpr":"datum.value+'°N'","title":null}}},
"layer":[
{"data":{"name":"c2"},"mark":{"type":"area","interpolate":"monotone","clip":true},"encoding":{"y2":{"field":"y2"},"color":{"field":"l","type":"ordinal","scale":{"domain":[-10,-8,-6,-4,-2,0,2,4,6,8,10,12],"range":["#6a1cf5","#4a50f0","#2090ec","#14c4e2","#3ae4d0","#62f8bc","#94f8a4","#c4e488","#eec068","#fc8c4a","#fd5a2c","#ff1a10"]},"legend":null},"detail":{"field":"b"}}},
{"data":{"name":"white"},"mark":{"type":"area","interpolate":"monotone","clip":true,"color":"#fff"},"encoding":{"y2":{"field":"y2"},"detail":{"field":"b"}}},
{"data":{"name":"coast"},"mark":{"type":"line","clip":true,"color":"#12302e","strokeWidth":1.6,"order":null},"encoding":{"detail":{"field":"s"}}}
]},
{"width":19,"height":371,"view":{"stroke":null},"data":{"name":"cbc"},"mark":{"type":"rect"},"encoding":{"y":{"field":"y","type":"quantitative","scale":{"domain":[-13,17],"nice":false,"zero":false},"axis":{"orient":"right","values":[-8,-4,0,4,8,12],"format":"d","domain":false,"ticks":true,"tickSize":4,"tickColor":"#222","title":"m/s","titleFontSize":17,"titleAngle":270,"titleX":51,"titleY":187,"grid":false,"labelPadding":3}},"y2":{"field":"y2"},"color":{"field":"l","type":"ordinal","scale":{"domain":[-10,-8,-6,-4,-2,0,2,4,6,8,10,12],"range":["#6a1cf5","#4a50f0","#2090ec","#14c4e2","#3ae4d0","#62f8bc","#94f8a4","#c4e488","#eec068","#fc8c4a","#fd5a2c","#ff1a10"]},"legend":null}}}
],"spacing":20}
],"spacing":15}
],"spacing":-29}
